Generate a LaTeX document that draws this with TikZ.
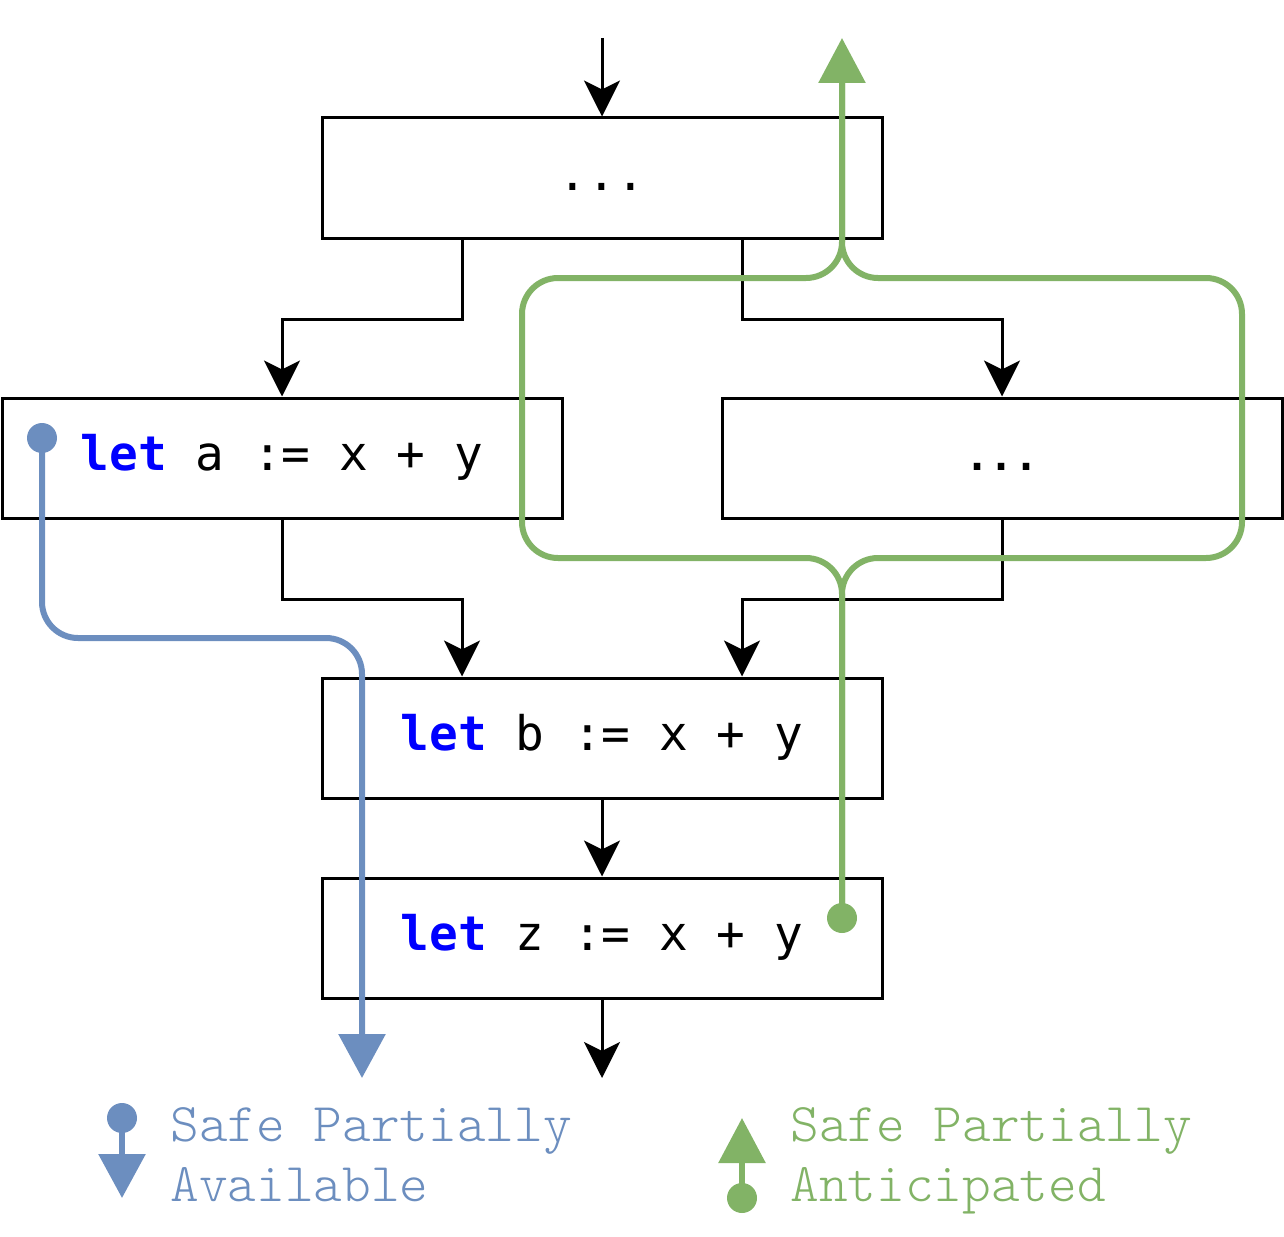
\documentclass[tikz,border=0pt]{standalone}
\usepackage{fontspec}
\setmonofont{DejaVu Sans Mono}
\newfontfamily\keyfont{Latin Modern Mono Light}
\usetikzlibrary{arrows.meta,calc}
\definecolor{avblue}{HTML}{6C8EBF}
\definecolor{angreen}{HTML}{82B366}
\definecolor{kwblue}{HTML}{0000FF}
\newcommand{\kwlet}{{\bfseries\color{kwblue}let}}
\begin{document}
\begin{tikzpicture}[x=0.5pt,y=-0.5pt,
  block/.style={draw,line width=1.5pt,minimum width=280pt,minimum height=60pt,inner sep=0pt,
    font=\ttfamily\fontsize{23.85}{28}\selectfont,text height=18pt,text depth=6pt},
  flow/.style={line width=1.5pt,-{Stealth[length=18pt,width=18pt,inset=4.5pt]}},
  avail/.style={avblue,line width=3pt,rounded corners=18pt,-{Triangle[length=22pt,width=23pt]}},
  antic/.style={angreen,line width=3pt,rounded corners=18pt},
  keytext/.style={anchor=west,align=left,inner sep=0pt,text depth=0pt,
    font=\keyfont\fontsize{27.3}{30}\selectfont}]
\useasboundingbox (0,0) rectangle (1284,1236);
\node[block] (top) at (602,178) {...};
\node[block] (left) at (282,458) {\kwlet{} a := x + y};
\node[block] (right) at (1002,458) {\fontsize{20}{24}\selectfont\bfseries ...};
\node[block] (b) at (602,738) {\kwlet{} b := x + y};
\node[block] (z) at (602,938) {\kwlet{} z := x + y};
\coordinate (entry) at (602,38);
\coordinate (exit) at (602,1078);
\draw[flow] (entry) -- (top.north);
\draw[flow] ($(top.south)+(-140,0)$) -- ++(0,80) -| (left.north);
\draw[flow] ($(top.south)+(140,0)$) -- ++(0,80) -| (right.north);
\draw[flow] (left.south) -- ++(0,80) -| ($(b.north)+(-140,0)$);
\draw[flow] (right.south) -- ++(0,80) -| ($(b.north)+(140,0)$);
\draw[flow] (b.south) -- (z.north);
\draw[flow] (z.south) -- (exit);
\coordinate (avsrc) at (42,438);
\coordinate (avdst) at (362,1078);
\draw[avail] (avsrc) -- (42,638) -- (362,638) -- (avdst);
\fill[avblue] (avsrc) circle (7.5pt);
\coordinate (ansrc) at (842,918);
\coordinate (andst) at (842,38);
\draw[antic,shorten >=22pt] (ansrc) -- (842,558) -- (1242,558) -- (1242,278) -- (842,278) -- (andst);
\draw[antic,-{Triangle[length=22.5pt,width=23pt]}] (ansrc) -- (842,558) -- (522,558) -- (522,278) -- (842,278) -- (andst);
\fill[angreen] (ansrc) circle (7.5pt);
\coordinate (avkeya) at (122,1118);
\coordinate (avkeyb) at (122,1198);
\draw[avail] (avkeya) -- (avkeyb);
\fill[avblue] (avkeya) circle (7.5pt);
\node[keytext,avblue] (avtext) at (170,1155) {Safe Partially\\Available};
\coordinate (ankeya) at (742,1198);
\coordinate (ankeyb) at (742,1118);
\draw[antic,-{Triangle[length=22.5pt,width=23pt]}] (ankeya) -- (ankeyb);
\fill[angreen] (ankeya) circle (7.5pt);
\node[keytext,angreen] (antext) at (790,1155) {Safe Partially\\Anticipated};
\end{tikzpicture}
\end{document}
